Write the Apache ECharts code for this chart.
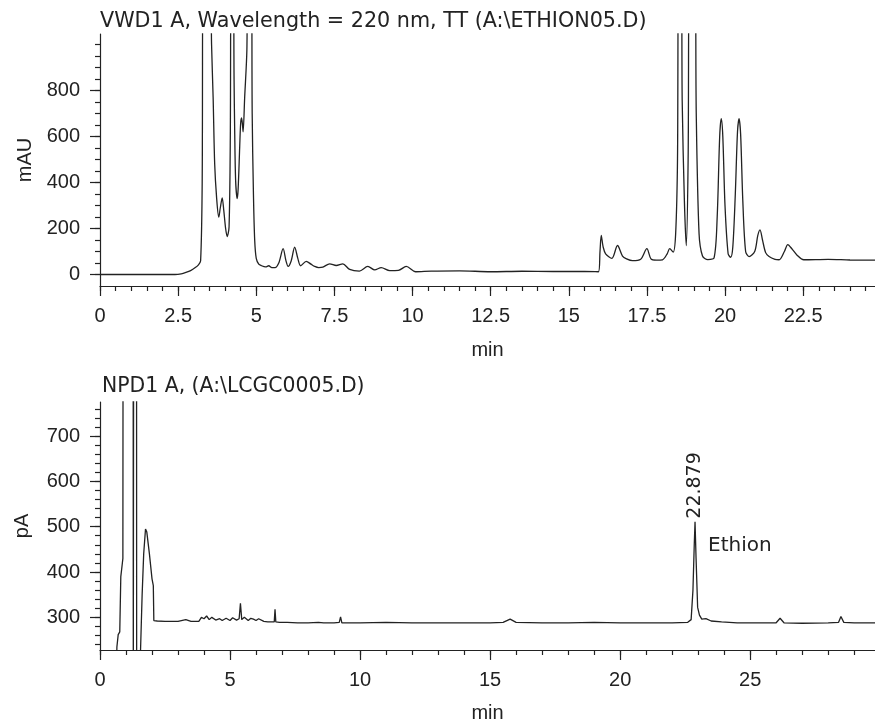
<!DOCTYPE html>
<html>
<head>
<meta charset="utf-8">
<script src="https://cdn.jsdelivr.net/npm/echarts@6/dist/echarts.min.js"></script>
<style>
  html, body { margin: 0; padding: 0; background: #fff; }
  #chart { width: 875px; height: 724px; }
</style>
</head>
<body>
<div id="chart"></div>
<script>
// top trace: VWD1 A, 220 nm (min, mAU)
var vwdTime = [0, 2.4, 2.6, 2.75, 2.9, 3.05, 3.15, 3.22, 3.27, 3.3, 3.52, 3.57, 3.62, 3.67, 3.73, 3.8, 3.85, 3.91, 3.96, 4.02,
  4.07, 4.13, 4.17, 4.2, 4.26, 4.29, 4.31, 4.34, 4.39, 4.42, 4.47, 4.5, 4.53, 4.56, 4.58, 4.63, 4.7, 4.73, 4.84, 4.87,
  4.91, 4.95, 5.0, 5.08, 5.17, 5.3, 5.4, 5.5, 5.6, 5.72, 5.86, 5.95, 6.02, 6.12, 6.23, 6.33, 6.42, 6.6, 6.75, 6.87,
  7.0, 7.13, 7.35, 7.56, 7.77, 7.99, 8.3, 8.57, 8.79, 9.0, 9.27, 9.55, 9.8, 10.1, 10.6, 11.5, 12.5, 13.5, 14.5, 15.5,
  15.95, 16.0, 16.04, 16.1, 16.18, 16.38, 16.56, 16.72, 16.85, 17.04, 17.3, 17.5, 17.63, 17.8, 18.0, 18.15, 18.23, 18.34, 18.42, 18.48,
  18.52, 18.6, 18.63, 18.7, 18.76, 18.82, 18.87, 19.03, 19.08, 19.17, 19.28, 19.45, 19.65, 19.75, 19.83, 19.88, 19.93, 20.0, 20.1, 20.18,
  20.25, 20.33, 20.4, 20.45, 20.5, 20.57, 20.66, 20.77, 20.95, 21.05, 21.12, 21.2, 21.3, 21.41, 21.6, 21.73, 21.9, 22.01, 22.15, 22.3,
  22.52, 23.3, 24.0, 24.8];
var vwdSignal = [0, 0, 3, 9, 17, 30, 42, 60, 400, 1400, 1400, 1000, 770, 480, 336, 249, 290, 333, 280, 200,
  165, 206, 600, 1400, 1400, 850, 626, 409, 330, 370, 553, 655, 680, 650, 620, 771, 974, 1400, 1400, 700,
  350, 150, 70, 45, 38, 33, 38, 30, 30, 50, 112, 60, 35, 60, 119, 70, 38, 57, 45, 35,
  30, 32, 46, 39, 46, 22, 15, 35, 20, 30, 17, 18, 35, 12, 15, 16, 12, 14, 13, 13,
  12, 100, 170, 120, 90, 70, 126, 80, 68, 60, 66, 112, 68, 62, 64, 90, 112, 97, 175, 500,
  1400, 1400, 757, 322, 126, 500, 1400, 1400, 700, 177, 80, 65, 72, 250, 600, 677, 600, 300, 90, 75,
  120, 350, 620, 677, 610, 320, 100, 78, 100, 170, 194, 150, 95, 78, 66, 64, 100, 130, 110, 85,
  64, 66, 63, 62];

// bottom trace: NPD1 A (min, pA)
var npdTime = [0, 0.6, 0.65, 0.7, 0.76, 0.8, 0.86, 0.88, 0.9, 1.27, 1.28, 1.3, 1.31, 1.4, 1.41, 1.5, 1.56, 1.62, 1.68, 1.75,
  1.8, 1.9, 2.0, 2.05, 2.07, 2.2, 2.5, 3.0, 3.3, 3.5, 3.8, 3.9, 4.0, 4.1, 4.2, 4.3, 4.45, 4.6, 4.7, 4.85,
  5.0, 5.1, 5.25, 5.35, 5.4, 5.45, 5.55, 5.7, 5.8, 5.9, 6.0, 6.1, 6.3, 6.45, 6.6, 6.7, 6.73, 6.76, 6.9, 7.2,
  7.6, 8.0, 8.4, 8.6, 9.0, 9.2, 9.25, 9.3, 10, 11, 12, 13, 14, 15, 15.5, 15.77, 16.0, 17, 18, 19,
  20, 21, 22, 22.6, 22.73, 22.8, 22.85, 22.88, 22.92, 22.98, 23.05, 23.14, 23.3, 23.5, 23.9, 24.5, 25, 25.5, 26.0, 26.15,
  26.3, 27, 28, 28.4, 28.49, 28.6, 29, 29.8];
var npdSignal = [100, 100, 235, 262, 268, 390, 420, 430, 2000, 2000, 100, 100, 2000, 2000, 100, 100, 230, 350, 440, 495,
  488, 440, 385, 370, 293, 292, 291, 291, 295, 291, 291, 300, 297, 303, 295, 300, 294, 297, 293, 298,
  293, 299, 294, 297, 331, 295, 300, 293, 298, 296, 293, 297, 291, 290, 290, 290, 318, 290, 289, 289,
  288, 288, 289, 288, 288, 289, 301, 288, 288, 289, 288, 288, 288, 288, 289, 296, 289, 288, 288, 289,
  288, 288, 288, 289, 295, 360, 460, 511, 430, 322, 305, 296, 297, 292, 290, 288, 288, 288, 288, 298,
  288, 287, 288, 289, 302, 289, 288, 288];

var vwdMajorX = [0, 2.5, 5, 7.5, 10, 12.5, 15, 17.5, 20, 22.5];
var vwdMajorY = [0, 200, 400, 600, 800];
var npdMajorX = [0, 5, 10, 15, 20, 25];
var npdMajorY = [300, 400, 500, 600, 700];

function steps(from, to, step) {
  var list = [];
  for (var v = from; v <= to + 1e-9; v += step) list.push(Math.round(v * 100) / 100);
  return list;
}
function zip(a, b) {
  return a.map(function (t, i) { return [t, b[i]]; });
}

var ink = '#222';
var font = "'Liberation Sans', Arial, sans-serif";
var wide = "'DejaVu Sans', sans-serif";
var txt = { color: ink, fontSize: 20, fontFamily: font };

function majorAxis(grid, min, max, ticks, extra) {
  var a = {
    gridIndex: grid, type: 'value', min: min, max: max,
    splitLine: { show: false },
    axisLine: { show: true, onZero: false, lineStyle: { color: ink, width: 1.2 } },
    axisTick: { show: true, length: 10, customValues: ticks, lineStyle: { color: ink, width: 1.2 } },
    axisLabel: Object.assign({ customValues: ticks, margin: 20 }, txt)
  };
  return Object.assign(a, extra);
}
function minorAxis(grid, min, max, ticks, extra) {
  var a = {
    gridIndex: grid, type: 'value', min: min, max: max,
    splitLine: { show: false },
    axisLine: { show: false, onZero: false },
    axisTick: { show: true, length: 5, customValues: ticks, lineStyle: { color: ink, width: 1.2 } },
    axisLabel: { show: false }
  };
  return Object.assign(a, extra);
}

var chart = echarts.init(document.getElementById('chart'));

var option = {
  backgroundColor: '#fff',
  animation: false,
  title: [
    { text: 'VWD1 A, Wavelength = 220 nm, TT (A:\\ETHION05.D)', left: 100, top: 11, padding: 0,
      textStyle: { color: ink, fontSize: 20.7, fontWeight: 'normal', fontFamily: wide } },
    { text: 'NPD1 A, (A:\\LCGC0005.D)', left: 102, top: 377, padding: 0,
      textStyle: { color: ink, fontSize: 20.4, fontWeight: 'normal', fontFamily: wide } }
  ],
  grid: [
    { left: 100, top: 34, right: 0, height: 252 },
    { left: 100, top: 402, right: 0, height: 251 }
  ],
  xAxis: [
    majorAxis(0, 0, 24.8, vwdMajorX, { position: 'bottom', name: 'min', nameLocation: 'middle', nameGap: 54, nameTextStyle: txt }),
    minorAxis(0, 0, 24.8, steps(0, 24.5, 0.5), { position: 'bottom' }),
    majorAxis(1, 0, 29.8, npdMajorX, { position: 'bottom', name: 'min', nameLocation: 'middle', nameGap: 53, nameTextStyle: txt }),
    minorAxis(1, 0, 29.8, steps(0, 29, 1), { position: 'bottom' })
  ],
  yAxis: [
    majorAxis(0, -50, 1045, vwdMajorY, { position: 'left', name: 'mAU', nameLocation: 'middle', nameGap: 64, nameTextStyle: txt }),
    minorAxis(0, -50, 1045, steps(0, 1000, 50), { position: 'left' }),
    majorAxis(1, 228, 775, npdMajorY, { position: 'left', name: 'pA', nameLocation: 'middle', nameGap: 68, nameTextStyle: txt }),
    minorAxis(1, 228, 775, steps(240, 760, 20), { position: 'left' })
  ],
  series: [
    {
      type: 'line', xAxisIndex: 0, yAxisIndex: 0, data: zip(vwdTime, vwdSignal),
      showSymbol: false, smooth: 0.3, clip: true,
      lineStyle: { color: ink, width: 1.3 }
    },
    {
      type: 'line', xAxisIndex: 2, yAxisIndex: 2, data: zip(npdTime, npdSignal),
      showSymbol: false, clip: true,
      lineStyle: { color: ink, width: 1.3 },
      markPoint: {
        symbol: 'circle', symbolSize: 0, silent: true,
        data: [
          { coord: [22.879, 511], label: { show: true, formatter: '22.879', rotate: 90, position: [0, -3],
              align: 'left', verticalAlign: 'middle', color: ink, fontSize: 19, fontFamily: wide } },
          { coord: [22.879, 511], label: { show: true, formatter: 'Ethion', position: [13, 24],
              align: 'left', verticalAlign: 'middle', color: ink, fontSize: 20, fontFamily: wide } }
        ]
      }
    }
  ]
};

chart.setOption(option);
</script>
</body>
</html>
